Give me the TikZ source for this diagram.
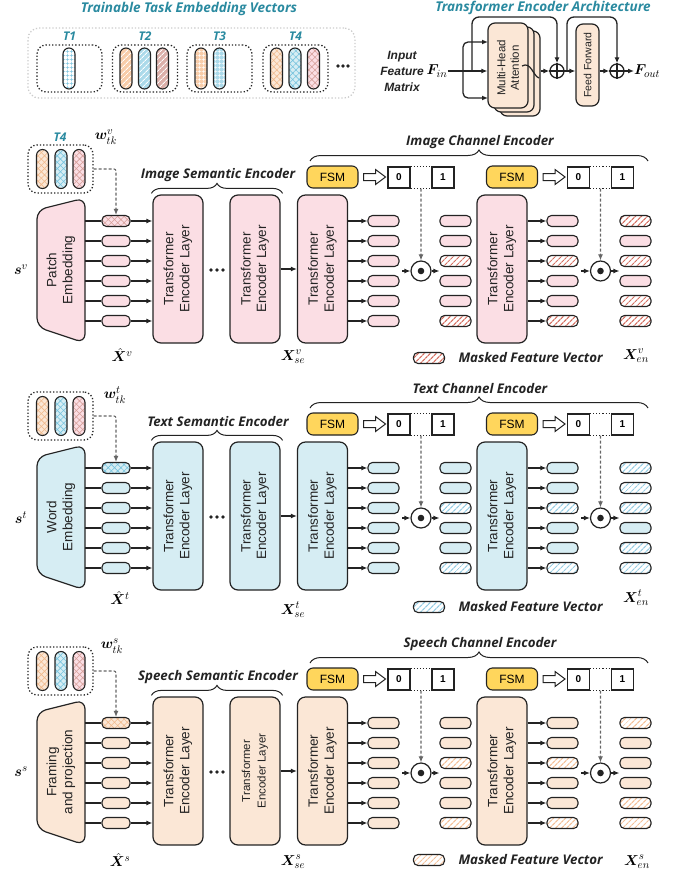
\documentclass[tikz,border=0pt]{standalone}
\usepackage{fontspec}
\usepackage{amsmath}
\usepackage{bm}
\setsansfont{Liberation Sans}
\newfontfamily\ttlfont{Open Sans}
\usetikzlibrary{arrows.meta,patterns.meta,decorations.pathreplacing,calc}
\definecolor{ink}{RGB}{35,35,35}
\definecolor{pinkf}{RGB}{251,222,228}
\definecolor{bluef}{RGB}{214,237,243}
\definecolor{orangef}{RGB}{251,231,214}
\definecolor{redh}{RGB}{214,112,98}
\definecolor{blueh}{RGB}{150,205,228}
\definecolor{orangeh}{RGB}{244,192,152}
\definecolor{redx}{RGB}{214,160,155}
\definecolor{bluex}{RGB}{120,195,222}
\definecolor{orangex}{RGB}{240,186,142}
\definecolor{fsmc}{RGB}{255,214,92}
\definecolor{teal1}{RGB}{42,138,160}
\definecolor{orm}{RGB}{248,205,170}
\definecolor{blm}{RGB}{172,218,234}
\definecolor{rdm}{RGB}{220,176,170}
\begin{document}
\begin{tikzpicture}[x=1pt,y=-1pt,
  ln/.style={draw=ink, line width=1.2pt},
  arr/.style={draw=ink, line width=1.2pt, -{Latex[length=6pt,width=5pt]}},
  arrS/.style={draw=ink, line width=1.3pt, -{Latex[length=6pt,width=5pt]}},
  darr/.style={draw=black!60, line width=1.1pt, dash pattern=on 3pt off 2pt, -{Latex[length=6pt,width=5pt]}},
  tel/.style={draw=ink, line width=1.2pt, rounded corners=8pt, minimum width=50pt, minimum height=148pt, inner sep=0pt},
  vtext/.style={rotate=90, font=\sffamily\fontsize{13.5}{16}\selectfont, align=center, text=ink},
  capn/.style={draw=ink, line width=1.1pt, rounded corners=4.5pt, minimum width=31pt, minimum height=11pt, inner sep=0pt},
  capa/.style={capn, minimum width=28pt},
  vcap/.style={draw=ink, line width=1.1pt, rounded corners=6pt, minimum width=12pt, minimum height=41pt, inner sep=0pt},
  fsm/.style={draw=ink, line width=1.1pt, fill=fsmc, rounded corners=6pt, minimum width=51pt, minimum height=22pt, font=\sffamily\fontsize{12}{14}\selectfont, inner sep=0pt},
  mcell/.style={draw=ink, line width=1.1pt, fill=white, minimum width=22pt, minimum height=21pt, font=\sffamily\bfseries\fontsize{10}{12}\selectfont, inner sep=0pt},
  dotbox/.style={draw=ink, dotted, line width=1.3pt, rounded corners=9pt, inner sep=0pt},
  ttl/.style={font=\ttlfont\bfseries\itshape\fontsize{13.5}{15}\selectfont, text=teal1},
  tlab/.style={font=\ttlfont\bfseries\itshape\fontsize{12}{14}\selectfont, text=teal1},
  stitle/.style={font=\ttlfont\bfseries\itshape\fontsize{13.3}{15}\selectfont, text=ink},
  mlab/.style={font=\fontsize{15}{18}\selectfont, inner sep=0pt},
  odot/.style={draw=ink, line width=1.2pt, circle, minimum size=20pt, inner sep=0pt, fill=white},
  oplus/.style={draw=ink, line width=1.3pt, circle, minimum size=14pt, inner sep=0pt},
  brc/.style={decorate, decoration={brace, amplitude=10pt}, draw=ink, line width=1pt},
  mhatch/.style={preaction={fill=white}, pattern={Lines[angle=45,distance=4pt,line width=1.2pt]}, pattern color=#1},
  xh/.style 2 args={preaction={fill=#1}, pattern={Hatch[angle=45,distance=4.5pt,line width=0.6pt]}, pattern color=#2},
  abox/.style={draw=ink, line width=1.2pt, fill=orangef, rounded corners=7pt, minimum width=40pt, minimum height=85pt, inner sep=0pt}
]
\useasboundingbox (0,0) rectangle (689,875);

% ---------------- Trainable task embedding vectors
\node[ttl] (tt1) at (189,9) {Trainable Task Embedding Vectors};
\node[dotbox, draw=gray!40, minimum width=327pt, minimum height=70pt, rounded corners=11pt] (outer) at (191.5,63) {};
\foreach \cx/\lab in {69.5/T1,145/T2,219.5/T3,295.5/T4}{
  \node[dotbox, minimum width=65pt, minimum height=47pt] (box\lab) at (\cx,68.5) {};
  \node[tlab] (lab\lab) at (\cx,36) {\lab};
}
\node[vcap, preaction={fill=white}, pattern={Hatch[angle=0,distance=4pt,line width=0.7pt]}, pattern color=bluex] (t1a) at (69,68.5) {};
\node[vcap, preaction={fill=orm}, pattern={Lines[angle=45,distance=4pt,line width=1pt]}, pattern color=white] (t2a) at (126,68.5) {};
\node[vcap, preaction={fill=blm}, pattern={Lines[angle=45,distance=4pt,line width=1pt]}, pattern color=white] (t2b) at (144.5,68.5) {};
\node[vcap, preaction={fill=rdm}, pattern={Lines[angle=45,distance=4pt,line width=1pt]}, pattern color=white] (t2c) at (162.5,68.5) {};
\node[vcap, preaction={fill=orm}, pattern={Hatch[angle=0,distance=4pt,line width=0.7pt]}, pattern color=white] (t3a) at (201,68.5) {};
\node[vcap, preaction={fill=blm}, pattern={Hatch[angle=0,distance=4pt,line width=0.7pt]}, pattern color=white] (t3b) at (219.5,68.5) {};
\node[vcap, xh={orangef}{orangex}] (t4a) at (276.5,68.5) {};
\node[vcap, xh={bluef}{bluex}] (t4b) at (295,68.5) {};
\node[vcap, xh={pinkf}{redx}] (t4c) at (313.5,68.5) {};
\foreach \i in {-5,0,5} \fill[ink] (343+\i,66) circle (1.8);

% ---------------- Transformer encoder architecture
\node[ttl] (tt2) at (543,8) {Transformer Encoder Architecture};
\node[font=\sffamily\bfseries\itshape\fontsize{12}{16}\selectfont, align=center, text=ink] (inp) at (402,71) {Input\\Feature\\Matrix};
\node[mlab] (fin) at (437,71) {$\bm F_{in}$};
\node[abox] (mha3) at (520,73.5) {};
\node[abox] (mha2) at (514,69.5) {};
\node[abox] (mha1) at (508,65.5) {};
\node[vtext, font=\sffamily\fontsize{11.5}{13.5}\selectfont] (mhat) at (508,68) {Multi-Head\\Attention};
\node[oplus] (op1) at (557,71) {};
\draw[ln, line width=1.3pt] (op1.north) -- (op1.south) (op1.west) -- (op1.east);
\node[abox, minimum width=23pt, minimum height=82pt] (ff) at (587.5,65) {};
\node[vtext, font=\sffamily\fontsize{10.5}{12.5}\selectfont] (fft) at (ff) {Feed Forward};
\node[oplus] (op2) at (617,71) {};
\draw[ln, line width=1.3pt] (op2.north) -- (op2.south) (op2.west) -- (op2.east);
\node[mlab, anchor=west] (fout) at (634,71) {$\bm F_{out}$};
\coordinate (br1) at (463,71);
\coordinate (br2) at (472,71);
\coordinate (mhaT) at (488,42);
\coordinate (mhaB) at (488,98);
\coordinate (sk1) at (557,17);
\coordinate (br3) at (567,71);
\coordinate (sk2) at (617,17);
\draw[arrS] (fin.east) -- (mha1.west |- fin.east);
\draw[arrS, rounded corners=5pt] (br1) |- (mhaT);
\draw[arrS, rounded corners=5pt] (br1) |- (mhaB);
\draw[arrS, rounded corners=7pt] (br2) |- (sk1) -- (op1.north);
\coordinate (sq1) at (522,66);
\coordinate (sq2) at (539,78);
\draw[ln, line width=1.2pt] (sq1) .. controls (531,61) and (533,76) .. (sq2);
\draw[arrS] (mha3.east |- op1.west) -- (op1.west);
\draw[arrS] (op1.east) -- (ff.west |- op1.east);
\draw[arrS, rounded corners=7pt] (br3) |- (sk2) -- (op2.north);
\draw[arrS] (ff.east |- op2.west) -- (op2.west);
\draw[arrS] (op2.east) -- (fout.west);

% ---------------- three encoder sections
\foreach \dy/\pf/\fcol/\hcol/\ccol/\emb/\sem/\maskc/\maskd/\maske/\tfs in {
  0/i/pinkf/redh/redx/{Patch\\Embedding}/Image/{0,0,1,0,0,1}/{0,0,1,0,0,1}/{1,0,1,0,1,1}/13.5,
  247/t/bluef/blueh/bluex/{Word\\Embedding}/Text/{0,0,1,0,0,1}/{0,0,1,0,0,1}/{1,1,1,0,1,1}/13.5,
  502/s/orangef/orangeh/orangex/{Framing\\and projection}/Speech/{0,0,1,0,0,1}/{0,0,1,0,0,1}/{1,0,0,0,1,1}/11.5}{
\begin{scope}[shift={(0,\dy)}]
  % task embedding of this task
  \node[dotbox, minimum width=65pt, minimum height=48pt] (\pf-wbox) at (60.5,169) {};
  \node[vcap, minimum height=39pt, xh={orangef}{orangex}] (\pf-w1) at (42.5,169) {};
  \node[vcap, minimum height=39pt, xh={bluef}{bluex}] (\pf-w2) at (61,169) {};
  \node[vcap, minimum height=39pt, xh={pinkf}{redx}] (\pf-w3) at (79,169) {};
  % embedding block
  \draw[ln, fill=\fcol, rounded corners=9pt] (37,210) -- (85,198) -- (85,343) -- (37,327) -- cycle;
  \node[vtext] (\pf-embt) at (61,270) {\emb};
  % transformer layers
  \node[tel, fill=\fcol] (\pf-tel1) at (178,269) {};
  \node[vtext] (\pf-tel1t) at (\pf-tel1) {Transformer\\Encoder Layer};
  \node[tel, fill=\fcol] (\pf-tel2) at (255,269) {};
  \node[vtext, font=\sffamily\fontsize{\tfs}{15.5}\selectfont] (\pf-tel2t) at (\pf-tel2) {Transformer\\Encoder Layer};
  \node[tel, fill=\fcol] (\pf-tel3) at (322.5,269) {};
  \node[vtext] (\pf-tel3t) at (\pf-tel3) {Transformer\\Encoder Layer};
  \node[tel, fill=\fcol] (\pf-tel4) at (502,269) {};
  \node[vtext] (\pf-tel4t) at (\pf-tel4) {Transformer\\Encoder Layer};
  \foreach \i in {-6,0,6} \fill[ink] (217+\i,270) circle (1.9);
  \draw[arr] (\pf-tel2.east) -- (\pf-tel3.west);
  % rows
  \foreach \k in {1,...,6}{
    \pgfmathsetmacro\yy{221+20*(\k-1)}
    \coordinate (\pf-q\k) at (85,\yy);
    \ifnum\k=1
      \node[capa, xh={\fcol}{\ccol}] (\pf-a\k) at (116,\yy) {};
    \else
      \node[capa, fill=\fcol] (\pf-a\k) at (116,\yy) {};
    \fi
    \draw[ln] (\pf-q\k) -- (\pf-a\k.west);
    \draw[arr] (\pf-a\k.east) -- (\pf-tel1.west |- \pf-a\k.east);
    \node[capn, fill=\fcol] (\pf-b\k) at (383.5,\yy) {};
    \draw[arr] (\pf-tel3.east |- \pf-b\k.west) -- (\pf-b\k.west);
  }
  \foreach \m [count=\k] in \maskc {
    \pgfmathsetmacro\yy{221+20*(\k-1)}
    \ifnum\m=1
      \node[capn, mhatch=\hcol] (\pf-c\k) at (455.5,\yy) {};
    \else
      \node[capn, fill=\fcol] (\pf-c\k) at (455.5,\yy) {};
    \fi
  }
  \foreach \m [count=\k] in \maskd {
    \pgfmathsetmacro\yy{221+20*(\k-1)}
    \ifnum\m=1
      \node[capn, mhatch=\hcol] (\pf-d\k) at (562.5,\yy) {};
    \else
      \node[capn, fill=\fcol] (\pf-d\k) at (562.5,\yy) {};
    \fi
    \draw[arr] (\pf-tel4.east |- \pf-d\k.west) -- (\pf-d\k.west);
  }
  \foreach \m [count=\k] in \maske {
    \pgfmathsetmacro\yy{221+20*(\k-1)}
    \ifnum\m=1
      \node[capn, mhatch=\hcol] (\pf-z\k) at (635.5,\yy) {};
    \else
      \node[capn, fill=\fcol] (\pf-z\k) at (635.5,\yy) {};
    \fi
  }
  % braces
  \draw[brc] ($(\pf-tel1.north west)+(-1,-1)$) -- ($(\pf-tel2.north east)+(2,-1)$);
  \node[stitle] (\pf-semt) at (218,175) {\sem{} Semantic Encoder};
  \coordinate (\pf-cb1) at (310,161);
  \coordinate (\pf-cb2) at (648,161);
  \draw[brc, decoration={brace, amplitude=11pt}] (\pf-cb1) -- (\pf-cb2);
  \node[stitle] (\pf-chant) at (480,142) {\sem{} Channel Encoder};
  % FSM and masks
  \node[fsm] (\pf-fa) at (332.5,177) {FSM};
  \node[mcell] (\pf-m0a) at (399,177.5) {0};
  \node[mcell] (\pf-m1a) at (443,177.5) {1};
  \draw[ink, dotted, line width=1.1pt] (\pf-m0a.north east) -- (\pf-m1a.north west) (\pf-m0a.south east) -- (\pf-m1a.south west);
  \coordinate (\pf-mda) at ($(\pf-m0a.south east)!.5!(\pf-m1a.south west)$);
  \draw[ink, line width=1pt, fill=white] ($(\pf-fa.east)+(5,-3.5)$) -- ++(12,0) -- ++(0,-4) -- ++(10,7.5) -- ++(-10,7.5) -- ++(0,-4) -- ++(-12,0) -- cycle;
  \node[fsm] (\pf-fb) at (512,177) {FSM};
  \node[mcell] (\pf-m0b) at (578.5,177.5) {0};
  \node[mcell] (\pf-m1b) at (622.5,177.5) {1};
  \draw[ink, dotted, line width=1.1pt] (\pf-m0b.north east) -- (\pf-m1b.north west) (\pf-m0b.south east) -- (\pf-m1b.south west);
  \coordinate (\pf-mdb) at ($(\pf-m0b.south east)!.5!(\pf-m1b.south west)$);
  \draw[ink, line width=1pt, fill=white] ($(\pf-fb.east)+(5,-3.5)$) -- ++(12,0) -- ++(0,-4) -- ++(10,7.5) -- ++(-10,7.5) -- ++(0,-4) -- ++(-12,0) -- cycle;
  % element-wise products
  \node[odot] (\pf-oa) at (421,271) {};
  \fill[ink] (\pf-oa) circle (3.3);
  \node[odot] (\pf-ob) at (600.5,271) {};
  \fill[ink] (\pf-ob) circle (3.3);
  \coordinate (\pf-ia) at (402,271);
  \coordinate (\pf-ib) at (581,271);
  \draw[arr] (\pf-ia) -- (\pf-oa.west);
  \draw[arr] (\pf-oa.east) -- (\pf-c1.west |- \pf-oa.east);
  \draw[arr] (\pf-ib) -- (\pf-ob.west);
  \draw[arr] (\pf-ob.east) -- (\pf-z1.west |- \pf-ob.east);
  \draw[darr] (\pf-mda) -- (\pf-oa.north);
  \draw[darr] (\pf-mdb) -- (\pf-ob.north);
  \draw[darr, rounded corners=2pt] (\pf-wbox.east) -| (\pf-a1.north);
\end{scope}
}

% ---------------- labels
\node[tlab] (iT4) at (60,137) {T4};
\node[mlab] (i-s) at (21,270) {$\bm s^{v}$};
\node[mlab] (i-w) at (106,137) {$\bm w^{v}_{tk}$};
\node[mlab] (i-xh) at (122,355) {$\hat{\bm X}^{v}$};
\node[mlab] (i-xse) at (293,357) {$\bm X^{v}_{se}$};
\node[mlab] (i-xen) at (636,356) {$\bm X^{v}_{en}$};
\node[capn, mhatch=redh] (i-leg) at (429,358) {};
\node[stitle, anchor=west] (i-legt) at (455,358) {Masked Feature Vector};

\node[mlab] (t-s) at (21,518) {$\bm s^{t}$};
\node[mlab] (t-w) at (115,395) {$\bm w^{t}_{tk}$};
\node[mlab] (t-xh) at (120,598) {$\hat{\bm X}^{t}$};
\node[mlab] (t-xse) at (293,610) {$\bm X^{t}_{se}$};
\node[mlab] (t-xen) at (636,598) {$\bm X^{t}_{en}$};
\node[capn, mhatch=blueh] (t-leg) at (429,607) {};
\node[stitle, anchor=west] (t-legt) at (455,607) {Masked Feature Vector};

\node[mlab] (s-s) at (21,772) {$\bm s^{s}$};
\node[mlab] (s-w) at (112,646) {$\bm w^{s}_{tk}$};
\node[mlab] (s-xh) at (120,860) {$\hat{\bm X}^{s}$};
\node[mlab] (s-xse) at (293,862) {$\bm X^{s}_{se}$};
\node[mlab] (s-xen) at (637,862) {$\bm X^{s}_{en}$};
\node[capn, mhatch=orangeh] (s-leg) at (429,860) {};
\node[stitle, anchor=west] (s-legt) at (455,860) {Masked Feature Vector};
\end{tikzpicture}
\end{document}
